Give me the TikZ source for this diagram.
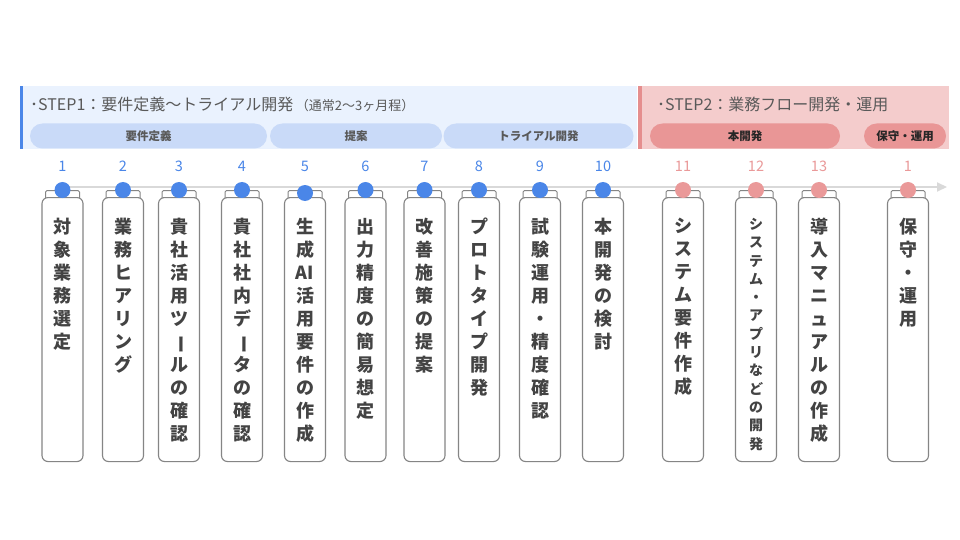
\documentclass[tikz,border=0pt]{standalone}
\usepackage{fontspec}
\setmainfont{Noto Sans CJK JP}
\usetikzlibrary{arrows.meta,positioning}
\definecolor{stepblue}{HTML}{4A86E8}
\definecolor{steppink}{HTML}{EA9999}
\definecolor{headblue}{HTML}{EAF2FE}
\definecolor{headpink}{HTML}{F4CCCC}
\definecolor{pillblue}{HTML}{C9DAF8}
\definecolor{pillpink}{HTML}{E99696}
\definecolor{barpink}{HTML}{E58E8E}
\definecolor{cardline}{HTML}{858585}
\definecolor{inktext}{HTML}{434343}
\definecolor{titletext}{HTML}{595959}
\definecolor{railgrey}{HTML}{D9D9D9}
\tikzset{
  card/.style={draw=cardline, line width=1.1pt, fill=white, rounded corners=6pt,
    anchor=north, minimum width=41pt, minimum height=264pt, inner sep=0pt},
  tab/.style={draw=cardline, line width=1pt, fill=white, rounded corners=1.5pt,
    anchor=north, minimum width=34pt, minimum height=10pt, inner sep=0pt},
  cardtext/.style={anchor=north, align=center, inner sep=0pt, text=inktext,
    font=\bfseries\fontsize{18}{23}\selectfont},
  smalltext/.style={cardtext, font=\bfseries\fontsize{14}{18.3}\selectfont},
  dot/.style={circle, minimum size=16pt, inner sep=0pt},
  num/.style={font=\fontsize{14.5}{14.5}\selectfont},
  title/.style={anchor=west, inner sep=0pt, text=titletext, font=\fontsize{16}{16}\selectfont},
  pill/.style={rounded corners=12.5pt, minimum height=25pt, inner sep=0pt,
    font=\bfseries\fontsize{11.5}{11.5}\selectfont},
  rail/.style={draw=railgrey, line width=2pt, -{Triangle[length=10pt,width=9pt]}}
}
% #1 id, #2 x, #3 dot y, #4 colour, #5 number, #6 text style, #7 text
\newcommand{\taskcard}[7]{%
  \node[tab] (t#1) at (#2,190) {};
  \node[card] (c#1) at (#2,197) {};
  \node[#6] (x#1) at (#2,218) {#7};
  \node[dot,fill=#4] (d#1) at (#2,#3) {};
  \node[num,text=#4] (n#1) at (#2,166) {#5};
}
\newcommand{\vbar}{\rotatebox[origin=c]{-90}{ー}}

\begin{document}
\begin{tikzpicture}[x=1pt,y=-1pt]
    \fill[white] (0,0) rectangle (960,540);
    \useasboundingbox (0,0) rectangle (960,540);
    % headers
    \fill[headblue] (20,86) rectangle (637,149);
    \fill[stepblue] (20,86) rectangle (23,149);
    \fill[headpink] (638,86) rectangle (949,149);
    \fill[barpink] (638,86) rectangle (642,149);
    \node[title] (s1) at (30,104) {･STEP1：要件定義〜トライアル開発\,{\fontsize{13}{13}\selectfont（通常2〜3ヶ月程）}};
    \node[title] (s2) at (657,104) {･STEP2：業務フロー開発・運用};
    \node[pill,fill=pillblue,text=titletext,minimum width=237pt] (p1) at (148.5,136) {要件定義};
    \node[pill,fill=pillblue,text=titletext,minimum width=172pt] (p2) at (356,136) {提案};
    \node[pill,fill=pillblue,text=titletext,minimum width=190pt] (p3) at (538.5,136) {トライアル開発};
    \node[pill,fill=pillpink,text=black!85,minimum width=190pt] (p4) at (745,136) {本開発};
    \node[pill,fill=pillpink,text=black!85,minimum width=82pt] (p5) at (905,136) {保守・運用};
    % timeline
    \coordinate (railstart) at (63,187);
    \coordinate (railend) at (947,187);
    \draw[rail] (railstart) -- (railend);
    % cards
    \taskcard{1}{62.5}{190}{stepblue}{1}{cardtext}{対\\象\\業\\務\\選\\定}
    \taskcard{2}{123}{190}{stepblue}{2}{cardtext}{業\\務\\ヒ\\ア\\リ\\ン\\グ}
    \taskcard{3}{179}{190}{stepblue}{3}{cardtext}{貴\\社\\活\\用\\ツ\\\vbar\\ル\\の\\確\\認}
    \taskcard{4}{242}{190}{stepblue}{4}{cardtext}{貴\\社\\社\\内\\デ\\\vbar\\タ\\の\\確\\認}
    \taskcard{5}{305}{193}{stepblue}{5}{cardtext}{生\\成\\AI\\活\\用\\要\\件\\の\\作\\成}
    \taskcard{6}{365.5}{190}{stepblue}{6}{cardtext}{出\\力\\精\\度\\の\\簡\\易\\想\\定}
    \taskcard{7}{424.5}{190}{stepblue}{7}{cardtext}{改\\善\\施\\策\\の\\提\\案}
    \taskcard{8}{479}{190}{stepblue}{8}{cardtext}{プ\\ロ\\ト\\タ\\イ\\プ\\開\\発}
    \taskcard{9}{540}{190}{stepblue}{9}{cardtext}{試\\験\\運\\用\\・\\精\\度\\確\\認}
    \taskcard{10}{603}{190}{stepblue}{10}{cardtext}{本\\開\\発\\の\\検\\討}
    \taskcard{11}{683}{190}{steppink}{11}{cardtext}{シ\\ス\\テ\\ム\\要\\件\\作\\成}
    \taskcard{12}{756}{190}{steppink}{12}{smalltext}{シ\\ス\\テ\\ム\\・\\ア\\プ\\リ\\な\\ど\\の\\開\\発}
    \taskcard{13}{819}{190}{steppink}{13}{cardtext}{導\\入\\マ\\ニ\\ュ\\ア\\ル\\の\\作\\成}
    \taskcard{14}{908}{190}{steppink}{1}{cardtext}{保\\守\\・\\運\\用}
\end{tikzpicture}
\end{document}
